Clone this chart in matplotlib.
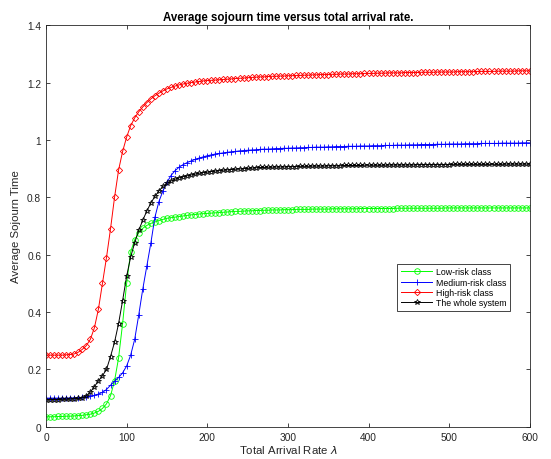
# Average sojourn time vs total arrival rate (Matlab style chart)
import numpy as np
import matplotlib
matplotlib.use('Agg')
import matplotlib.pyplot as plt
from matplotlib.ticker import FormatStrFormatter

plt.rcParams['font.family'] = ['Liberation Sans', 'DejaVu Sans']

# arrival rate grid, 0..600 step 5
rate = np.arange(0, 601, 5)

# values
low_risk = [
    0.035, 0.035, 0.035, 0.036, 0.036, 0.037, 0.037, 0.038, 0.039, 0.040,
    0.042, 0.044, 0.048, 0.054, 0.064, 0.080, 0.108, 0.160, 0.240, 0.360,
    0.500, 0.610, 0.652, 0.676, 0.692, 0.702, 0.709, 0.714, 0.719, 0.723,
    0.727, 0.729, 0.731, 0.733, 0.735, 0.737, 0.739, 0.740, 0.742, 0.743,
    0.744, 0.745, 0.746, 0.747, 0.748, 0.749, 0.750, 0.751, 0.751, 0.752,
    0.753, 0.753, 0.754, 0.754, 0.755, 0.755, 0.756, 0.756, 0.756, 0.757,
    0.757, 0.757, 0.758, 0.758, 0.758, 0.758, 0.759, 0.759, 0.759, 0.759,
    0.759, 0.760, 0.760, 0.760, 0.760, 0.760, 0.760, 0.760, 0.761, 0.761,
    0.761, 0.761, 0.761, 0.761, 0.761, 0.761, 0.761, 0.762, 0.762, 0.762,
    0.762, 0.762, 0.762, 0.762, 0.762, 0.762, 0.762, 0.762, 0.762, 0.763,
    0.763, 0.763, 0.763, 0.763, 0.763, 0.763, 0.763, 0.763, 0.763, 0.763,
    0.763, 0.763, 0.763, 0.763, 0.763, 0.763, 0.763, 0.763, 0.763, 0.763,
    0.763,
]
medium_risk = [
    0.100, 0.100, 0.100, 0.100, 0.100, 0.100, 0.101, 0.101, 0.102, 0.103,
    0.105, 0.107, 0.110, 0.114, 0.120, 0.130, 0.145, 0.158, 0.172, 0.188,
    0.212, 0.250, 0.305, 0.390, 0.480, 0.560, 0.640, 0.730, 0.785, 0.822,
    0.852, 0.876, 0.893, 0.905, 0.914, 0.921, 0.927, 0.932, 0.937, 0.941,
    0.945, 0.948, 0.951, 0.953, 0.955, 0.957, 0.959, 0.960, 0.962, 0.963,
    0.964, 0.965, 0.966, 0.967, 0.968, 0.968, 0.969, 0.970, 0.970, 0.971,
    0.971, 0.972, 0.972, 0.973, 0.973, 0.974, 0.974, 0.975, 0.975, 0.975,
    0.976, 0.976, 0.977, 0.977, 0.977, 0.978, 0.978, 0.978, 0.979, 0.979,
    0.979, 0.980, 0.980, 0.980, 0.981, 0.981, 0.981, 0.982, 0.982, 0.982,
    0.983, 0.983, 0.983, 0.984, 0.984, 0.984, 0.984, 0.985, 0.985, 0.985,
    0.986, 0.986, 0.986, 0.986, 0.987, 0.987, 0.987, 0.987, 0.988, 0.988,
    0.988, 0.988, 0.988, 0.989, 0.989, 0.989, 0.989, 0.989, 0.990, 0.990,
    0.990,
]
high_risk = [
    0.250, 0.250, 0.250, 0.250, 0.250, 0.251, 0.252, 0.254, 0.260, 0.270,
    0.283, 0.305, 0.345, 0.410, 0.500, 0.590, 0.690, 0.800, 0.895, 0.960,
    1.010, 1.050, 1.077, 1.098, 1.115, 1.130, 1.143, 1.154, 1.163, 1.171,
    1.178, 1.183, 1.188, 1.192, 1.195, 1.198, 1.200, 1.202, 1.204, 1.206,
    1.207, 1.208, 1.209, 1.210, 1.211, 1.212, 1.213, 1.214, 1.215, 1.216,
    1.217, 1.218, 1.219, 1.220, 1.220, 1.221, 1.222, 1.222, 1.223, 1.223,
    1.224, 1.224, 1.225, 1.225, 1.226, 1.226, 1.227, 1.227, 1.228, 1.228,
    1.228, 1.229, 1.229, 1.230, 1.230, 1.230, 1.231, 1.231, 1.231, 1.232,
    1.232, 1.232, 1.233, 1.233, 1.233, 1.234, 1.234, 1.234, 1.234, 1.235,
    1.235, 1.235, 1.235, 1.236, 1.236, 1.236, 1.236, 1.237, 1.237, 1.237,
    1.237, 1.237, 1.238, 1.238, 1.238, 1.238, 1.238, 1.239, 1.239, 1.239,
    1.239, 1.239, 1.240, 1.240, 1.240, 1.240, 1.240, 1.241, 1.241, 1.241,
    1.241,
]
whole_system = [
    0.095, 0.095, 0.095, 0.095, 0.096, 0.096, 0.097, 0.098, 0.099, 0.101,
    0.108, 0.121, 0.140, 0.160, 0.178, 0.200, 0.245, 0.295, 0.360, 0.440,
    0.525, 0.592, 0.642, 0.685, 0.720, 0.752, 0.780, 0.803, 0.822, 0.838,
    0.849, 0.857, 0.863, 0.868, 0.872, 0.875, 0.878, 0.881, 0.884, 0.886,
    0.888, 0.890, 0.892, 0.893, 0.895, 0.896, 0.897, 0.898, 0.899, 0.900,
    0.901, 0.902, 0.903, 0.904, 0.904, 0.905, 0.905, 0.906, 0.906, 0.906,
    0.907, 0.907, 0.907, 0.908, 0.908, 0.908, 0.909, 0.909, 0.909, 0.909,
    0.910, 0.910, 0.910, 0.910, 0.911, 0.911, 0.911, 0.911, 0.911, 0.912,
    0.912, 0.912, 0.912, 0.912, 0.912, 0.913, 0.913, 0.913, 0.913, 0.913,
    0.913, 0.913, 0.914, 0.914, 0.914, 0.914, 0.914, 0.914, 0.914, 0.914,
    0.914, 0.915, 0.915, 0.915, 0.915, 0.915, 0.915, 0.915, 0.915, 0.915,
    0.915, 0.915, 0.915, 0.915, 0.916, 0.916, 0.916, 0.916, 0.916, 0.916,
    0.916,
]

series = [
    (low_risk, 'Low-risk class', '#00ff00', 'o'),
    (medium_risk, 'Medium-risk class', '#0000ff', '+'),
    (high_risk, 'High-risk class', '#ff0000', 'D'),
    (whole_system, 'The whole system', '#000000', '*'),
]

fig = plt.figure(figsize=(5.51, 4.60), dpi=100)
ax = fig.add_axes([0.0835, 0.070, 0.878, 0.873])

for vals, label, color, mk in series:
    ms = 3.2 if mk == 'D' else 4
    ax.plot(rate, vals, color=color, marker=mk, markersize=ms, linewidth=0.7,
            markerfacecolor='none', markeredgewidth=0.6, label=label)

grey = '#262626'
ax.set_xlim(0, 600)
ax.set_ylim(0, 1.4)
ax.set_xticks(np.arange(0, 601, 100))
ax.set_yticks(np.arange(0, 1.41, 0.2))
ax.yaxis.set_major_formatter(FormatStrFormatter('%g'))
ax.tick_params(direction='in', top=True, right=True, labelsize=7.3,
               length=3, width=0.6, colors=grey, labelcolor=grey)
for sp in ax.spines.values():
    sp.set_color(grey)
    sp.set_linewidth(0.6)

ax.set_title('Average sojourn time versus total arrival rate.', fontsize=8.3,
             fontweight='bold', color='black', pad=4)
ax.set_xlabel(r'Total Arrival Rate $\lambda$', fontsize=8.2, color=grey, labelpad=1)
ax.set_ylabel('Average Sojourn Time', fontsize=8.2, color=grey, labelpad=4)

leg = ax.legend(loc='lower left', bbox_to_anchor=(0.717, 0.278), fontsize=6.3,
                numpoints=1, handlelength=3.6, borderpad=0.4, labelspacing=0.15,
                handletextpad=0.4, fancybox=False, framealpha=1)
leg.get_frame().set_edgecolor(grey)
leg.get_frame().set_linewidth(0.6)

fig.savefig('out.png', dpi=100)
